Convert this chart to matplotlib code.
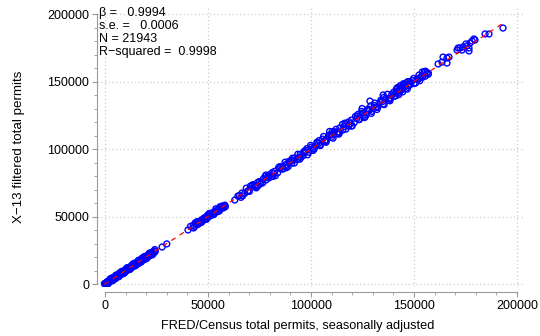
import matplotlib
matplotlib.use("Agg")
import matplotlib.pyplot as plt
from matplotlib.ticker import MultipleLocator

plt.rcParams['font.family'] = ['Liberation Sans', 'DejaVu Sans']

# FRED/Census vs X-13 filtered permits (hand-read sample of the scatter)
x_low = [0, 300, 700, 1000, 1400, 1900, 2300, 2800, 3200, 3700, 4100, 4600, 5000, 5500,
         5900, 6400, 6800, 7300, 7700, 8200, 8600, 9100, 9500, 10000, 10400, 10900, 11300,
         11800, 12200, 12700, 13100, 13600, 14000, 14500, 14900, 15400, 15800, 16300, 16700,
         17200, 17600, 18100, 18500, 19000, 19400, 19900, 20300, 20800, 21200, 21700, 22100,
         22600, 23000, 23500, 23900, 24400, 500, -300, 900,
         1600, 3400, 5200, 7000, 8800, 10600, 12400, 14200, 16000, 17800, 19600, 21400, 23200,
         1200, 2500, 3900, 5300, 6700, 8000, 9400, 10800, 12100, 13500, 14800, 16200, 17500,
         18900, 20200, 21600, 22900, 24200]
y_low = [200, -400, 1300, 300, 2100, 1200, 3000, 2000, 3900, 2900, 4800, 3800, 5700, 4800,
         6600, 5600, 7500, 6500, 8400, 7400, 9300, 8300, 10200, 9200, 11100, 10100, 12000,
         11000, 12900, 11900, 13800, 12800, 14700, 13700, 15600, 14600, 16500, 15500, 17400,
         16400, 18300, 17300, 19200, 18200, 20100, 19100, 21000, 20000, 21900, 20900, 22800,
         21800, 23700, 22700, 24500, 24000, -500, 300, 1000,
         400, 4500, 4100, 8100, 7700, 11700, 11300, 15300, 14900, 18900, 18500, 22500, 22100,
         -100, 3800, 2600, 6600, 5400, 9300, 8100, 12100, 10800, 14800, 13500, 17500, 16200,
         20200, 18900, 22900, 21600, 25500]

x_mid = [27700, 30000, 40300, 42800, 43500, 44300, 45000, 45600, 46200, 46900, 47500, 48100,
         48800, 49400, 50000, 50700, 51300, 52000, 52700, 53500, 54200, 55000, 55800, 56600,
         57400, 58200]
y_mid = [27400, 29700, 40000, 43400, 42600, 44900, 44000, 46300, 45400, 47600, 46800, 48900,
         48000, 50100, 49300, 51400, 50600, 52700, 51900, 54000, 53300, 55500, 54800, 57000,
         56300, 58400]

x_high = [63000, 66500, 67800, 69300, 71400, 72800, 74100, 75500, 76900, 78200, 79700, 81000,
          82400, 83800, 85200, 86500, 87900, 89300, 90700, 92000, 93400, 94800, 96100, 97500,
          98900, 100200, 101600, 103000, 104300, 105700, 107100, 108500, 109000, 110000,
          111300, 112700, 114000, 115500, 116800, 118300, 119600, 121000, 122400, 124800,
          123500, 125300, 126700, 128100, 128600, 129500, 130800, 132200, 133600, 135000,
          135000, 136400, 137800, 139200, 140600, 141700, 142500, 143300, 144000, 144800,
          145600, 146400, 147200, 148000, 150000, 152000, 153000, 154000, 155500, 157000]
y_high = [62200, 67400, 67100, 68600, 73000, 71900, 75300, 74200, 78000, 77100, 80900, 79600,
          83500, 82400, 86800, 85300, 88600, 90900, 89500, 93300, 92200, 96100, 95000, 98900,
          97600, 101400, 100300, 104500, 103000, 107300, 105600, 109600, 113000, 108700,
          112900, 111300, 115600, 114100, 118700, 116900, 121400, 119600, 124300, 130000,
          121800, 126800, 125200, 128900, 135500, 127900, 132200, 130800, 134900, 133300,
          140000, 137600, 136200, 140500, 139100, 145000, 143500, 146900, 144700, 148300,
          146600, 149200, 147700, 150000, 148500, 151600, 153000, 157000, 154000, 156000]

x_band = [41500, 43000, 44700, 46300, 47800, 49200, 50600, 52300, 53800, 55300, 56900, 58400,
          64500, 66000, 68600, 70100, 71800, 73400, 75000, 76600, 78100, 79500, 81200, 82700,
          84300, 85900, 87400, 88900, 90400, 91900, 93600, 95100, 96700, 98300, 99800, 101300,
          102900, 104500, 106100, 107600, 109200, 110700, 112200, 113800, 115300, 116900,
          118400, 120000, 121600, 123100, 124600, 126200, 127700, 129300, 130900, 132400,
          134000, 135500, 137100, 138600, 140200, 141300, 142100, 142900, 143700, 144500,
          145300, 146100, 147000, 147800, 149300, 150800, 152400, 154100, 155600, 156900,
          45200, 48500, 51800, 54600, 57700, 65300, 69400, 72600, 75800, 79000, 82000, 85000,
          88200, 91200, 94300, 97100, 100600, 103700, 106800, 110000, 113000, 116100, 119200,
          122300, 125400, 128500, 131600, 134700, 137800, 140900, 143000, 144200, 145800,
          147500, 151500, 153500, 156300,
          43800, 46800, 49800, 52800, 55800, 66800, 70600, 74200, 77800, 81500, 84800, 88000,
          91000, 94600, 98000, 101000, 104000, 107300, 110300, 113500, 116500, 119700, 122800,
          126000, 129000, 132000, 135300, 138300, 141500, 142600, 144800, 146700, 149800,
          152800, 155000]
y_band = [42700, 41500, 46200, 45400, 48300, 47900, 52300, 51700, 55700, 53900, 57800, 57200,
          65100, 64200, 71000, 68600, 73600, 71200, 75900, 75000, 80700, 78500, 82600, 80200,
          86300, 85100, 90200, 87000, 91500, 89600, 96100, 93900, 98300, 95700, 102700, 99900,
          105000, 102500, 109300, 106700, 110700, 108000, 114600, 112100, 118300, 114700,
          120200, 117200, 124200, 121800, 127900, 123800, 129600, 126400, 134000, 130900,
          136300, 132900, 140500, 137500, 142200, 139500, 145500, 142000, 145400, 142300,
          147900, 144900, 149900, 147200, 150700, 148900, 154700, 153100, 157600, 155400,
          45000, 48800, 51500, 54900, 57400, 65600, 69100, 72900, 75500, 79400, 81700, 85400,
          87900, 91600, 94000, 97500, 100200, 104100, 106400, 110400, 112600, 116500, 118800,
          122700, 125000, 128900, 131200, 135100, 137400, 141300, 143400, 143900, 146200,
          147100, 151900, 153200, 156700,
          45300, 45600, 51000, 51400, 57200, 65300, 72500, 72600, 79700, 79700, 86900, 86100,
          93200, 92500, 100300, 98900, 106300, 105000, 112800, 111000, 119200, 117000, 125600,
          123300, 132000, 129300, 138200, 135700, 144300, 140300, 147400, 144400, 152300,
          150600, 157400]

x_top = [161700, 163600, 164100, 166000, 167000, 166000, 170900, 171400, 172300, 173300,
         173800, 175200, 175700, 176700, 177200, 178200, 179100, 179600, 176700, 184500,
         186400, 193200]
y_top = [163000, 164400, 168100, 167400, 168100, 163700, 173300, 174800, 174800, 173300,
         175600, 177800, 176300, 174800, 178500, 180000, 181500, 180700, 172600, 185200,
         185200, 189600]

beta = 0.9994
se = 0.0006
n_obs = 21943
r_squared = 0.9998

xs = x_low + x_mid + x_high + x_band + x_top
ys = y_low + y_mid + y_high + y_band + y_top

fig = plt.figure(figsize=(5.4, 3.36), dpi=100)
ax = fig.add_axes([97 / 540, 1 - 287 / 336, 428 / 540, 281 / 336])

ax.scatter(xs, ys, s=18, facecolors='none', edgecolors='blue', linewidths=1.0, zorder=3)
x0, x1 = min(xs), max(xs)
ax.plot([x0, x1], [beta * x0, beta * x1], color='red', lw=0.9, ls=(0, (4, 4)), zorder=4)

ax.set_xlim(-3883, 203883)
ax.set_ylim(-2222, 205926)

ax.xaxis.set_major_locator(MultipleLocator(50000))
ax.yaxis.set_major_locator(MultipleLocator(50000))
ax.xaxis.set_minor_locator(MultipleLocator(10000))
ax.yaxis.set_minor_locator(MultipleLocator(10000))
ax.grid(True, which='major', color='#cccccc', lw=0.9, ls=(0, (1, 2)))

for side in ['top', 'right']:
    ax.spines[side].set_visible(False)
for side in ['left', 'bottom']:
    ax.spines[side].set_color('#999999')
    ax.spines[side].set_bounds(0, 200000)
ax.spines['bottom'].set_position(('outward', 3.6))
ax.tick_params(which='major', length=3.6, color='#999999', labelsize=9, pad=2)
ax.tick_params(which='minor', length=2.2, color='#999999')

ax.set_xlabel('FRED/Census total permits, seasonally adjusted', fontsize=9.2)
ax.xaxis.set_label_coords(0.47, -0.118)
ax.set_ylabel('X\u221213 filtered total permits', fontsize=9.6, labelpad=16)

stats = (f"\u03b2 =   {beta:.4f}\n"
         f"s.e. =   {se:.4f}\n"
         f"N = {n_obs}\n"
         f"R\u2212squared =  {r_squared:.4f}")
ax.text(0.005, 0.995, stats, transform=ax.transAxes, fontsize=9, va='top', ha='left',
        linespacing=1.08)

fig.savefig('out.png', dpi=100)
